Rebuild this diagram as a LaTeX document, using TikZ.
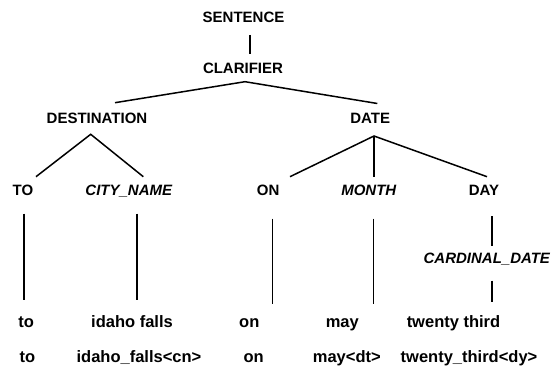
\documentclass[tikz,border=0pt]{standalone}
\usepackage{fontspec}
\setmainfont{Liberation Sans}
\begin{document}
\begin{tikzpicture}[x=1pt,y=-1pt,
  up/.style={anchor=base,inner sep=0pt,font=\fontsize{15}{18}\selectfont\bfseries},
  upi/.style={anchor=base,inner sep=0pt,font=\fontsize{15}{18}\selectfont\bfseries\itshape},
  low/.style={anchor=base,inner sep=0pt,font=\fontsize{16.5}{19}\selectfont\bfseries},
  edge/.style={line width=1.5pt}]
\useasboundingbox (0,0) rectangle (552,366);
% labels
\node[up] (sentence) at (243.5,22.6) {SENTENCE};
\node[up] (clarifier) at (243,73.8) {CLARIFIER};
\node[up] (destination) at (97,123.8) {DESTINATION};
\node[up] (date) at (370.2,123.8) {DATE};
\node[up] (TO) at (23,195.2) {TO};
\node[upi] (cityname) at (128.8,195.2) {CITY\_NAME};
\node[up] (ON) at (268.2,195.2) {ON};
\node[upi] (month) at (368.8,195.2) {MONTH};
\node[up] (day) at (484,195.2) {DAY};
\node[upi] (cardinal) at (486.8,263.8) {CARDINAL\_DATE};
\node[low] (w1) at (26.2,327.2) {to};
\node[low] (w2) at (132,327.2) {idaho falls};
\node[low] (w3) at (249.3,327.2) {on};
\node[low] (w4) at (342.3,327.2) {may};
\node[low] (w5) at (453.5,327.2) {twenty third};
\node[low] (t1) at (27.5,362.8) {to};
\node[low] (t2) at (139,362.8) {idaho\_falls<cn>};
\node[low] (t3) at (253.7,362.8) {on};
\node[low] (t4) at (346.8,362.8) {may<dt>};
\node[low] (t5) at (469,362.8) {twenty\_third<dy>};
% connector end points
\coordinate (s-b) at (250,35);
\coordinate (c-t) at (250,54.3);
\coordinate (c-b) at (245,81.7);
\coordinate (d-t) at (115,102.7);
\coordinate (da-t) at (377.3,103.5);
\coordinate (d-b) at (90.7,134.3);
\coordinate (to-t) at (36,176.7);
\coordinate (cn-t) at (143.3,176.7);
\coordinate (da-b) at (374,136);
\coordinate (on-t) at (290,176.7);
\coordinate (mo-t) at (374,176.7);
\coordinate (dy-t) at (487,176.7);
\coordinate (to-b) at (24,213.7);
\coordinate (w1-t) at (24,299.7);
\coordinate (cn-b) at (137,213.7);
\coordinate (w2-t) at (137,299.7);
\coordinate (on-b) at (272.3,218.7);
\coordinate (w3-t) at (272.3,303.7);
\coordinate (mo-b) at (373.7,218.7);
\coordinate (w4-t) at (373.7,303.7);
\coordinate (dy-b) at (492,216.3);
\coordinate (cd-t) at (492,245.7);
\coordinate (cd-b) at (492,280.7);
\coordinate (w5-t) at (492,302.3);
% connectors
\draw[edge] (s-b) -- (c-t);
\draw[edge] (d-t) -- (c-b) -- (da-t);
\draw[edge] (to-t) -- (d-b) -- (cn-t);
\draw[edge] (on-t) -- (da-b) -- (dy-t);
\draw[edge] (da-b) -- (mo-t);
\draw[edge] (to-b) -- (w1-t);
\draw[edge] (cn-b) -- (w2-t);
\draw[edge] (on-b) -- (w3-t);
\draw[edge] (mo-b) -- (w4-t);
\draw[edge] (dy-b) -- (cd-t);
\draw[edge] (cd-b) -- (w5-t);
\end{tikzpicture}
\end{document}
